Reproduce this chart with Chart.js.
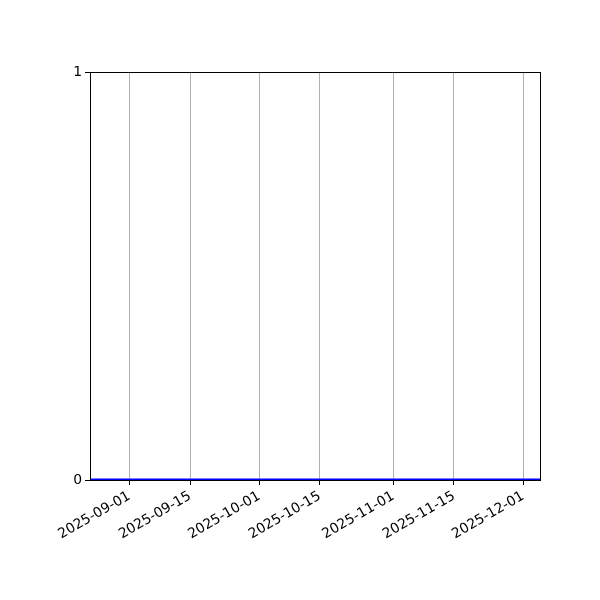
<!DOCTYPE html>
<html>
<head>
<meta charset="utf-8">
<script src="https://cdn.jsdelivr.net/npm/chart.js@4"></script>
<style>
html,body{margin:0;padding:0;background:#fff;}
#wrap{width:600px;height:600px;}
</style>
</head>
<body>
<div id="wrap"><canvas id="c" width="600" height="600"></canvas></div>
<script>
const dates = ['2025-08-23', '2025-12-05'];
const values = [0, 0];
const tickDates = ['2025-09-01', '2025-09-15', '2025-10-01', '2025-10-15', '2025-11-01', '2025-11-15', '2025-12-01'];
const yTicks = [0, 1];
const xRange = ['2025-08-23', '2025-12-05'];

const DAY = 86400000;
const toDay = s => Date.parse(s + 'T00:00:00Z') / DAY;
const fromDay = v => new Date(Math.round(v) * DAY).toISOString().slice(0, 10);

const frame = {
  id: 'frame',
  afterDatasetsDraw(chart) {
    const a = chart.chartArea, ctx = chart.ctx;
    ctx.save();
    ctx.strokeStyle = '#000';
    ctx.lineWidth = 1;
    ctx.strokeRect(Math.round(a.left) + 0.5, Math.round(a.top) + 0.5, Math.round(a.right - a.left), Math.round(a.bottom - a.top));
    ctx.restore();
  }
};

Chart.defaults.font.family = '"DejaVu Sans", sans-serif';
Chart.defaults.font.size = 13.9;
Chart.defaults.color = '#000';

new Chart(document.getElementById('c'), {
  type: 'line',
  data: {
    datasets: [{
      data: dates.map((d, i) => ({x: toDay(d), y: values[i]})),
      borderColor: '#0000ff',
      borderWidth: 3,
      pointRadius: 0,
      clip: 0,
      tension: 0
    }]
  },
  options: {
    responsive: false,
    animation: false,
    devicePixelRatio: 1,
    layout: {padding: {top: 72, right: 60, left: 0, bottom: 0}},
    plugins: {legend: {display: false}, tooltip: {enabled: false}},
    scales: {
      x: {
        type: 'linear',
        min: toDay(xRange[0]) - 0.12,
        max: toDay(xRange[1]) - 0.12,
        afterBuildTicks: ax => { ax.ticks = tickDates.map(d => ({value: toDay(d)})); },
        afterFit: s => { s.height = 120; },
        ticks: {
          autoSkip: false,
          minRotation: 30,
          maxRotation: 30,
          padding: 3,
          callback: v => fromDay(v)
        },
        grid: {color: '#b0b0b0', tickColor: '#000', tickLength: 5, lineWidth: 1},
        border: {display: false}
      },
      y: {
        type: 'linear',
        min: 0,
        max: 1,
        afterBuildTicks: ax => { ax.ticks = yTicks.map(v => ({value: v})); },
        afterFit: s => { s.width = 90; },
        ticks: {padding: 3, callback: v => String(v)},
        grid: {color: 'rgba(0,0,0,0)', tickColor: '#000', tickLength: 5, lineWidth: 1},
        border: {display: false}
      }
    }
  },
  plugins: [frame]
});
</script>
</body>
</html>
